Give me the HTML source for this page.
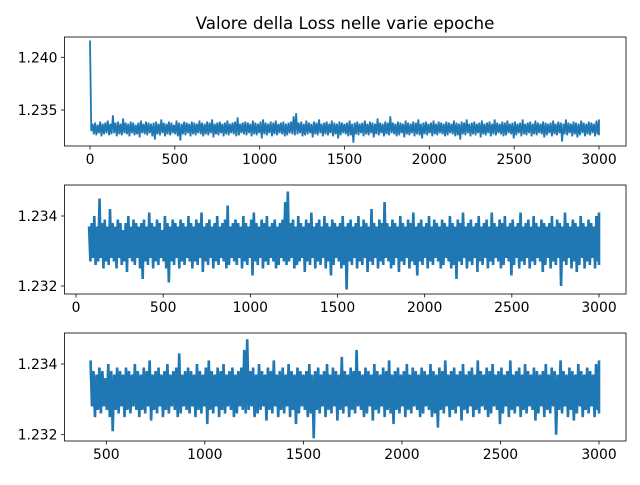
<!DOCTYPE html>
<html><head><meta charset="utf-8"><style>
body{margin:0;background:#fff}
svg text{font-family:"DejaVu Sans","Liberation Sans",sans-serif;font-size:13.9px;fill:#000}
</style></head><body>
<svg id="chart" width="640" height="480" viewBox="0 0 640 480">
<rect width="640" height="480" fill="#fff"/>
<text x="345" y="29" text-anchor="middle" style="font-size:16.7px">Valore della Loss nelle varie epoche</text>
</svg>
<script>
// per 15-epoch bin: highest and lowest loss value reached (epoch = index*15)
const lossHigh = [1.2416,
1.2337,1.2338,1.2336,1.2339,1.2337,1.2338,1.2340,1.2337,1.2345,1.2338,1.2339,1.2337,1.2342,1.2338,1.2337,1.2339,1.2338,1.2336,1.2338,1.2340,
1.2337,1.2339,1.2338,1.2337,1.2338,1.2339,1.2337,1.2341,1.2338,1.2337,1.2339,1.2338,1.2336,1.2340,1.2338,1.2337,1.2339,1.2338,1.2337,1.2339,
1.2338,1.2337,1.2340,1.2338,1.2337,1.2339,1.2338,1.2341,1.2337,1.2338,1.2339,1.2337,1.2338,1.2340,1.2337,1.2338,1.2339,1.2343,1.2337,1.2338,
1.2339,1.2338,1.2337,1.2340,1.2338,1.2337,1.2339,1.2341,1.2338,1.2337,1.2339,1.2338,1.2340,1.2337,1.2338,1.2339,1.2337,1.2338,1.2339,1.2344,
1.2347,1.2338,1.2339,1.2337,1.2340,1.2338,1.2337,1.2339,1.2338,1.2341,1.2337,1.2338,1.2339,1.2337,1.2340,1.2338,1.2337,1.2339,1.2338,1.2337,
1.2338,1.2340,1.2337,1.2338,1.2339,1.2337,1.2338,1.2340,1.2337,1.2339,1.2338,1.2337,1.2342,1.2338,1.2337,1.2339,1.2338,1.2344,1.2338,1.2337,
1.2339,1.2338,1.2337,1.2340,1.2338,1.2337,1.2339,1.2338,1.2341,1.2337,1.2338,1.2339,1.2337,1.2338,1.2340,1.2337,1.2339,1.2338,1.2337,1.2339,
1.2338,1.2337,1.2340,1.2338,1.2337,1.2339,1.2338,1.2341,1.2337,1.2338,1.2339,1.2337,1.2338,1.2340,1.2337,1.2338,1.2339,1.2337,1.2341,1.2338,
1.2337,1.2339,1.2338,1.2340,1.2337,1.2338,1.2339,1.2337,1.2338,1.2341,1.2337,1.2338,1.2339,1.2337,1.2340,1.2338,1.2337,1.2339,1.2338,1.2337,
1.2338,1.2340,1.2337,1.2339,1.2338,1.2337,1.2341,1.2338,1.2337,1.2339,1.2338,1.2337,1.2340,1.2338,1.2337,1.2339,1.2338,1.2337,1.2340,1.2341];
const lossLow = [1.2330,
1.2327,1.2326,1.2328,1.2325,1.2327,1.2328,1.2326,1.2327,1.2328,1.2325,1.2327,1.2326,1.2328,1.2327,1.2325,1.2328,1.2326,1.2327,1.2324,1.2328,
1.2327,1.2326,1.2328,1.2325,1.2322,1.2327,1.2326,1.2328,1.2325,1.2327,1.2326,1.2328,1.2327,1.2325,1.2321,1.2327,1.2326,1.2328,1.2325,1.2327,
1.2326,1.2328,1.2327,1.2325,1.2327,1.2326,1.2328,1.2324,1.2327,1.2326,1.2328,1.2325,1.2327,1.2326,1.2328,1.2327,1.2325,1.2326,1.2328,1.2327,
1.2326,1.2328,1.2325,1.2327,1.2326,1.2328,1.2323,1.2327,1.2326,1.2328,1.2325,1.2327,1.2326,1.2328,1.2327,1.2325,1.2326,1.2328,1.2327,1.2326,
1.2327,1.2328,1.2325,1.2326,1.2327,1.2328,1.2324,1.2327,1.2326,1.2328,1.2325,1.2327,1.2326,1.2328,1.2325,1.2327,1.2323,1.2326,1.2328,1.2327,
1.2325,1.2326,1.2319,1.2327,1.2326,1.2328,1.2325,1.2327,1.2326,1.2328,1.2324,1.2327,1.2326,1.2328,1.2325,1.2327,1.2326,1.2328,1.2327,1.2325,
1.2326,1.2328,1.2324,1.2327,1.2326,1.2328,1.2325,1.2327,1.2326,1.2323,1.2327,1.2326,1.2328,1.2325,1.2327,1.2326,1.2328,1.2327,1.2325,1.2326,
1.2328,1.2327,1.2325,1.2326,1.2322,1.2327,1.2326,1.2328,1.2325,1.2327,1.2326,1.2328,1.2324,1.2327,1.2326,1.2328,1.2325,1.2327,1.2326,1.2328,
1.2327,1.2325,1.2326,1.2328,1.2327,1.2323,1.2326,1.2328,1.2325,1.2327,1.2326,1.2328,1.2325,1.2327,1.2326,1.2328,1.2327,1.2324,1.2326,1.2328,
1.2325,1.2327,1.2326,1.2328,1.2320,1.2327,1.2326,1.2328,1.2325,1.2327,1.2324,1.2326,1.2328,1.2325,1.2327,1.2326,1.2328,1.2325,1.2327,1.2326];
const epochStep = 15;
const panelStartEpochs = [0, 75, 420];
const xTicks1 = [0,500,1000,1500,2000,2500,3000];
const xTicks2 = [0,500,1000,1500,2000,2500,3000];
const xTicks3 = [500,1000,1500,2000,2500,3000];
const yTicks1 = [1.235,1.240];
const yTicks2 = [1.232,1.234];
const yTicks3 = [1.232,1.234];

const NS="http://www.w3.org/2000/svg";
const svg=document.getElementById('chart');
function mk(tag,attrs,parent){const e=document.createElementNS(NS,tag);for(const k in attrs)e.setAttribute(k,attrs[k]);(parent||svg).appendChild(e);return e;}

const panels=[
 {top:37,bottom:146,x0:0,px0:90,x1:3000,px1:599,y0:1.235,py0:110,y1:1.240,py1:57.3,xt:xTicks1,yt:yTicks1,sw:1.8},
 {top:185,bottom:294,x0:0,px0:76,x1:3000,px1:599,y0:1.232,py0:286,y1:1.234,py1:216,xt:xTicks2,yt:yTicks2,sw:2.6},
 {top:333,bottom:441,x0:500,px0:106.3,x1:3000,px1:599,y0:1.232,py0:434.7,y1:1.234,py1:364,xt:xTicks3,yt:yTicks3,sw:2.6}
];
const L=64.5,R=626;
panels.forEach((p,pi)=>{
  const g=mk('g',{});
  
  
  const sx=v=>p.px0+(v-p.x0)*(p.px1-p.px0)/(p.x1-p.x0);
  const sy=v=>p.py0+(v-p.y0)*(p.py1-p.py0)/(p.y1-p.y0);
  const clip=mk('clipPath',{id:'c'+pi},g);
  mk('rect',{x:L,y:p.top,width:R-L,height:p.bottom-p.top},clip);
  let d='';
  lossHigh.forEach((hv,i)=>{
    const e=i*epochStep;if(e<panelStartEpochs[pi])return;
    const e2=Math.min(e+epochStep/2,3000);
    d+=(d?'L':'M')+sx(e).toFixed(2)+' '+sy(hv).toFixed(2)+'L'+sx(e2).toFixed(2)+' '+sy(lossLow[i]).toFixed(2);
  });
  const line=mk('path',{d:d,fill:'none',stroke:'#1f77b4','stroke-width':p.sw,'stroke-linejoin':'miter','stroke-miterlimit':2,'clip-path':'url(#c'+pi+')'},g);
  
  
  const fr=mk('rect',{x:L,y:p.top,width:R-L,height:p.bottom-p.top,fill:'none',stroke:'#000','stroke-width':0.8},g);
  
  
  p.xt.forEach(t=>{const x=sx(t);mk('line',{x1:x,x2:x,y1:p.bottom,y2:p.bottom+3.5,stroke:'#000','stroke-width':0.8},g);
    const tx=mk('text',{x:x,y:p.bottom+18,'text-anchor':'middle'},g);tx.textContent=t;
    
    });
  p.yt.forEach(t=>{const y=sy(t);mk('line',{x1:L-3.5,x2:L,y1:y,y2:y,stroke:'#000','stroke-width':0.8},g);
    const tx=mk('text',{x:L-7,y:y+5,'text-anchor':'end'},g);tx.textContent=t.toFixed(3);
    
    });
});
</script>
</body></html>
